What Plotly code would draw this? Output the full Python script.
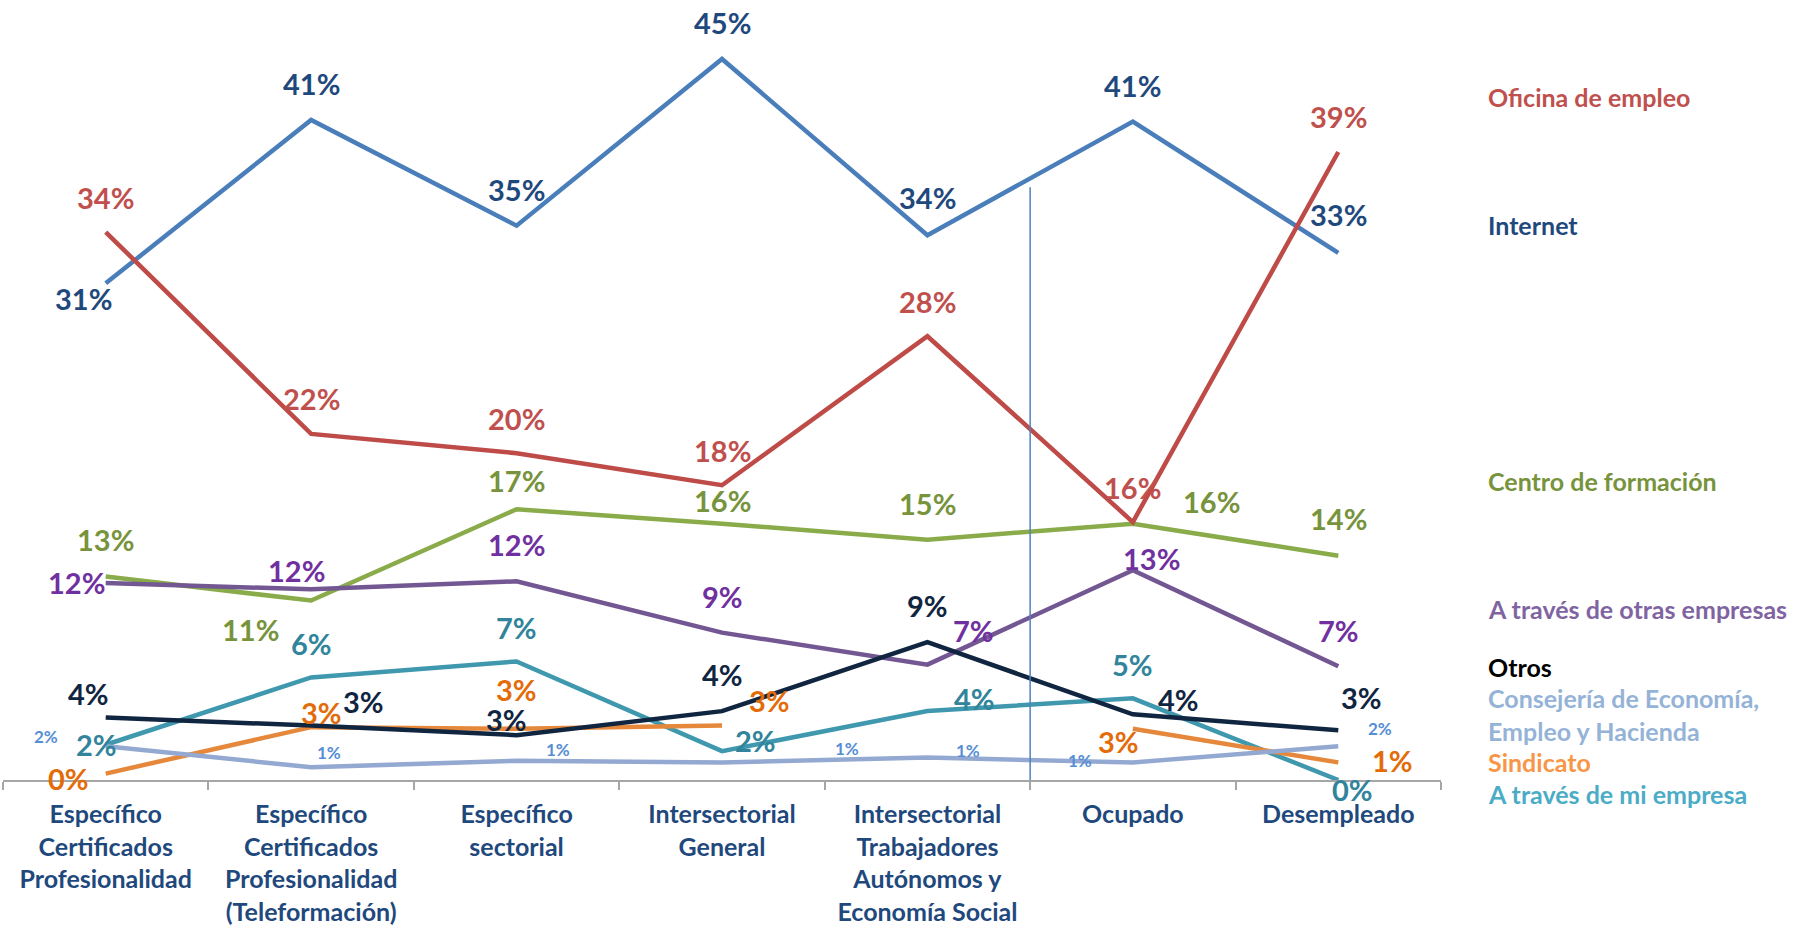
import plotly.graph_objects as go

# ---------------- data ----------------
categories = [
    "Específico<br>Certificados<br>Profesionalidad",
    "Específico<br>Certificados<br>Profesionalidad<br>(Teleformación)",
    "Específico<br>sectorial",
    "Intersectorial<br>General",
    "Intersectorial<br>Trabajadores<br>Autónomos y<br>Economía Social",
    "Ocupado",
    "Desempleado",
]

internet = [31.0, 41.2, 34.6, 45.0, 34.0, 41.1, 32.9]
oficina_empleo = [34.2, 21.6, 20.4, 18.4, 27.7, 16.1, 39.2]
centro_formacion = [12.7, 11.2, 16.9, 16.0, 15.0, 16.0, 14.0]
otras_empresas = [12.3, 11.9, 12.4, 9.2, 7.2, 13.1, 7.1]
otros = [3.9, 3.4, 2.8, 4.3, 8.6, 4.1, 3.1]
consejeria = [2.1, 0.8, 1.2, 1.1, 1.4, 1.1, 2.1]
sindicato = [0.4, 3.3, 3.2, 3.4, None, 3.2, 1.1]
mi_empresa = [2.2, 6.4, 7.4, 1.8, 4.3, 5.1, 0.0]

series_names = [
    "Oficina de empleo",
    "Internet",
    "Centro de formación",
    "A través de otras empresas",
    "Otros",
    "Consejería de Economía,<br>Empleo y Hacienda",
    "Sindicato",
    "A través de mi empresa",
]

# ---------------- styles ----------------
FONT = "Lato, 'Open Sans', sans-serif"
W, H = 1797, 929
ML, MR, MT, MB = 3, 356, 27, 149
YMAX = 0.47
PLOT_W = W - ML - MR
PLOT_H = H - MT - MB

# (values, line color, label color, label size, label offsets (dx, dy px), legend color, legend y px)
series = [
    (oficina_empleo, "#BE4B48", "#C0504D", 29,
     [(0, 35)] * 7, "#C0504D", 97),
    (internet, "#4A7EBB", "#1F497D", 29,
     [(-22, -15), (0, 36), (0, 36), (0, 37), (0, 38), (0, 36), (0, 38)], "#1F497D", 225),
    (centro_formacion, "#8AAB4A", "#77933C", 29,
     [(0, 37), (-61, -29), (0, 29), (0, 23), (0, 36), (79, 22), (0, 37)], "#77933C", 481),
    (otras_empresas, "#735793", "#7030A0", 29,
     [(-29, 0), (-15, 19), (0, 37), (0, 36), (46, 34), (19, 12), (0, 36)], "#8064A2", 609),
    (otros, "#10253F", "#10253F", 29,
     [(-17, 24), (52, 24), (-10, 16), (0, 37), (0, 37), (46, 15), (23, 33)], "#000000", 667),
    (consejeria, "#93A9D1", "#558ED5", 17,
     [(-60, 10), (18, 15), (41, 11), (125, 14), (41, 7), (-53, 2), (42, 18)], "#95B3D7", 714),
    (sindicato, "#E5883C", "#E36C09", 29,
     [(-37, -5), (10, 15), (0, 39), (47, 25), (0, 0), (-14, -13), (54, 2)], "#F79646", 762),
    (mi_empresa, "#3F98AE", "#31849B", 29,
     [(-9, 0), (0, 34), (0, 34), (33, 11), (47, 13), (0, 34), (14, -9)], "#4BACC6", 794),
]

fig = go.Figure()
annotations = []

draw_order = [2, 3, 7, 6, 5, 4, 1, 0]
for i in draw_order:
    vals, lcol, tcol, tsize, offs, legcol, legy = series[i]
    fig.add_trace(go.Scatter(
        x=categories,
        y=[None if v is None else v / 100 for v in vals],
        mode="lines",
        line=dict(color=lcol, width=4.5),
        name=series_names[i],
        showlegend=False,
        hoverinfo="skip",
    ))

for i, (vals, lcol, tcol, tsize, offs, legcol, legy) in enumerate(series):
    for j, v in enumerate(vals):
        if v is None:
            continue
        annotations.append(dict(
            x=j, y=v / 100, xref="x", yref="y",
            text=f"{round(v)}%", showarrow=False,
            xshift=offs[j][0], yshift=offs[j][1],
            font=dict(family=FONT, size=tsize, color=tcol, weight=700),
            xanchor="center", yanchor="middle",
        ))
    # right-hand series labels
    annotations.append(dict(
        x=(1486 - ML) / PLOT_W, y=(H - MB - legy) / PLOT_H,
        xref="paper", yref="paper",
        text=series_names[i], showarrow=False, align="left",
        xanchor="left", yanchor="middle",
        font=dict(family=FONT, size=25, color=legcol, weight=700),
    ))

fig.add_shape(type="line", x0=4.5, x1=4.5, y0=-0.007, y1=0.37,
              xref="x", yref="y", line=dict(color="#4F81BD", width=1.5))

fig.update_layout(
    width=W, height=H,
    margin=dict(l=ML, r=MR, t=MT, b=MB, pad=0),
    paper_bgcolor="white", plot_bgcolor="white",
    annotations=annotations,
    xaxis=dict(
        type="category", range=[-0.5, 6.5],
        showline=True, linecolor="#A6A6A6", linewidth=2,
        ticks="outside", tickson="boundaries", ticklen=8, tickwidth=2,
        tickcolor="#A6A6A6", showgrid=False, zeroline=False,
        tickfont=dict(family=FONT, size=25, color="#1F497D", weight=700),
        ticklabelstandoff=11,
    ),
    yaxis=dict(range=[0, YMAX], visible=False, showgrid=False, zeroline=False),
)

fig.write_html("out.html", config={"displayModeBar": False},
               post_script="document.body.style.margin='0';document.body.style.overflow='hidden';")
